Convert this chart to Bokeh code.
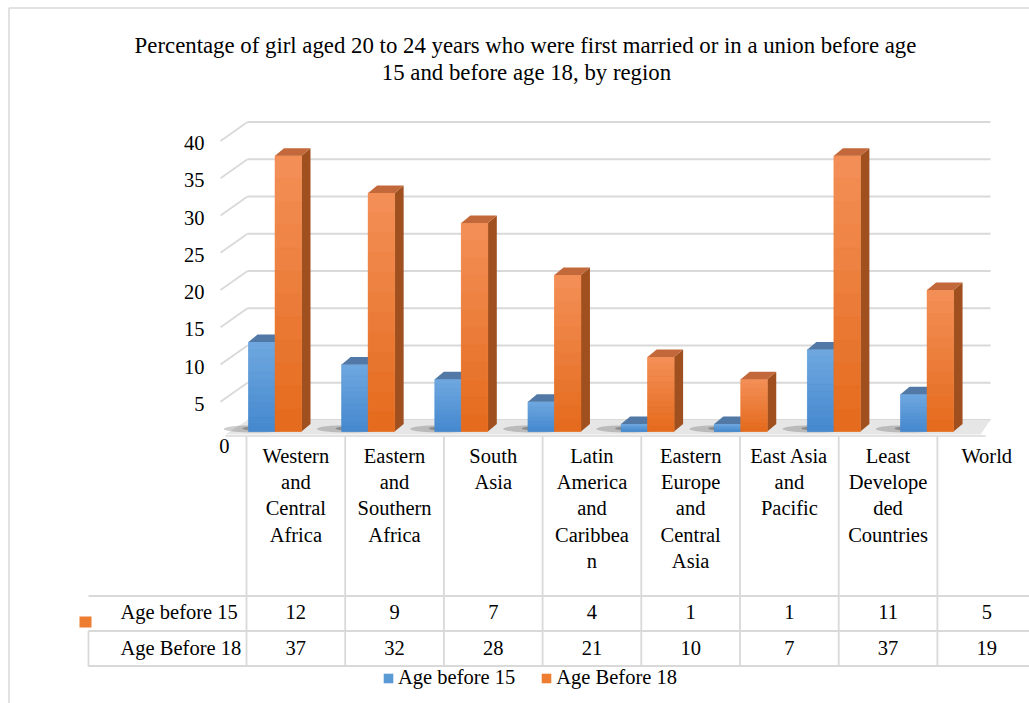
import numpy as np
from bokeh.plotting import figure
from bokeh.models import Range1d, ColumnDataSource, Legend, LegendItem
from bokeh.core.properties import value
from bokeh.embed import file_html
from bokeh.resources import INLINE

# ---------------- data ----------------
title_lines = [
    "Percentage of girl aged 20 to 24 years who were first married or in a union before age",
    "15 and before age 18, by region",
]
regions = [
    "Western\nand\nCentral\nAfrica",
    "Eastern\nand\nSouthern\nAfrica",
    "South\nAsia",
    "Latin\nAmerica\nand\nCaribbea\nn",
    "Eastern\nEurope\nand\nCentral\nAsia",
    "East Asia\nand\nPacific",
    "Least\nDevelope\nded\nCountries",
    "World",
]
series_names = ["Age before 15", "Age Before 18"]
age_before_15 = [12, 9, 7, 4, 1, 1, 11, 5]
age_before_18 = [37, 32, 28, 21, 10, 7, 37, 19]
y_ticks = [0, 5, 10, 15, 20, 25, 30, 35, 40]
y_tick_labels = ["0", "5", "10", "15", "20", "25", "30", "35", "40"]

# ---------------- geometry (pixels) ----------------
W, H = 1029, 703
CAT0, CAT_STEP = 274.5, 93.15      # bar-pair centres
TAB0, TAB_STEP = 295.35, 98.7      # table column centres
Y0, YS = 431.0, 7.45               # front baseline, px per unit
FONT = value("Liberation Serif")
FS = value("20.5px")
GRID = "#D9D9D9"

def T(y_top):
    """screen y (from top) -> default range y (from bottom)"""
    return H - y_top

n = len(regions)
p = figure(width=W, height=H, x_range=Range1d(0, W), y_range=Range1d(0, H),
           min_border=0, toolbar_location=None, output_backend="svg",
           x_axis_type=None, y_axis_type=None, outline_line_color=None,
           background_fill_color="white", border_fill_color="white")
p.extra_x_ranges = {
    "cat": Range1d(-CAT0 / CAT_STEP, (W - CAT0) / CAT_STEP),
    "tab": Range1d(-TAB0 / TAB_STEP, (W - TAB0) / TAB_STEP),
}
p.extra_y_ranges = {"val": Range1d(-(H - Y0) / YS, Y0 / YS)}

# outer chart border
p.line(x=[8.5, 8.5, W], y=[0, T(7.5), T(7.5)], line_color=GRID, line_width=1.5)

# ---------------- back wall gridlines + left wall stubs ----------------
BACK = 11.5 / YS           # back wall offset in value units
STUB = 19.0 / YS
gx0, gx1, sx0 = 247, 990, 220
p.multi_line(xs=[[gx0, gx1] for _ in y_ticks],
             ys=[[t + BACK, t + BACK] for t in y_ticks],
             y_range_name="val", line_color=GRID, line_width=1.8)
p.multi_line(xs=[[sx0, gx0] for t in y_ticks if t > 0],
             ys=[[t + BACK - STUB, t + BACK] for t in y_ticks if t > 0],
             y_range_name="val", line_color=GRID, line_width=1.8)

# floor
fl = -0.4
p.patch(x=[225, 980, gx1, gx0], y=[fl, fl, BACK, BACK], y_range_name="val",
        fill_color="#E6E6E6", line_color=None)

# shadows under bars
BW = 26.5 / CAT_STEP
DX = 9.0 / CAT_STEP
DY = 7.5 / YS
idx = np.arange(n)
p.ellipse(x=idx - 0.2, y=[0.35] * n, width=0.7, height=1.0,
          x_range_name="cat", y_range_name="val",
          fill_color="#3A3A3A", fill_alpha=0.25, line_color=None)
p.ellipse(x=idx - 0.1, y=[0.4] * n, width=0.5, height=0.65,
          x_range_name="cat", y_range_name="val",
          fill_color="#3A3A3A", fill_alpha=0.35, line_color=None)

# ---------------- 3D bars ----------------
def lerp(c1, c2, t):
    return "#%02x%02x%02x" % tuple(int(round(a + (b - a) * t)) for a, b in zip(c1, c2))

styles = [
    dict(base="#5B9BD5", top_c=(112, 168, 224), bot_c=(68, 136, 206),
         cap="#5279A6", side="#3E6FA3"),
    dict(base="#ED7D31", top_c=(243, 144, 88), bot_c=(228, 106, 28),
         cap="#C2683A", side="#A0501E"),
]
front_renderers = []
for s, vals in enumerate([age_before_15, age_before_18]):
    st = styles[s]
    cx = idx + (s - 0.5) * BW
    left, right = cx - BW / 2, cx + BW / 2
    v = np.array(vals, dtype=float)
    # side face
    p.patches(xs=[[r, r + DX, r + DX, r] for r in right],
              ys=[[0, DY, h + DY, h] for h in v],
              x_range_name="cat", y_range_name="val",
              fill_color=st["side"], line_color=None)
    # front face (solid, used by legend)
    r_front = p.quad(left=left, right=right, bottom=0, top=v,
                     x_range_name="cat", y_range_name="val",
                     fill_color=st["base"], line_color=None)
    front_renderers.append(r_front)
    # vertical gradient on front face
    N = 12
    bl, br, bb, bt, bc = [], [], [], [], []
    for k in range(N):
        for i in range(n):
            bl.append(left[i]); br.append(right[i])
            bb.append(v[i] * k / N); bt.append(v[i] * (k + 1) / N)
            bc.append(lerp(st["bot_c"], st["top_c"], (k + 0.5) / N))
    p.quad(source=ColumnDataSource(dict(l=bl, r=br, b=bb, t=bt, c=bc)),
           left="l", right="r", bottom="b", top="t", fill_color="c",
           line_color="c", line_width=0.5,
           x_range_name="cat", y_range_name="val")
    # top face
    p.patches(xs=[[l, r, r + DX, l + DX] for l, r in zip(left, right)],
              ys=[[h, h, h + DY, h + DY] for h in v],
              x_range_name="cat", y_range_name="val",
              fill_color=st["cap"], line_color=None)

# ---------------- y tick labels ----------------
lab_x = [229 if t == 0 else 204 for t in y_ticks]
lab_y = [t - (14.0 if t == 0 else 9.5) / YS for t in y_ticks]
p.text(x=lab_x, y=lab_y, text=y_tick_labels, y_range_name="val",
       text_font=FONT, text_font_size=FS, text_align="right",
       text_baseline="middle", text_color="black")

# ---------------- title ----------------
p.text(x=[525, 526], y=[T(45), T(72)], text=title_lines,
       text_font=FONT, text_font_size=value("22.8px"), text_align="center",
       text_baseline="middle", text_color="black")

# ---------------- data table ----------------
# category axis line / header top
p.line(x=[225, 985], y=[T(435.5), T(435.5)], line_color=GRID, line_width=1.5)
# column borders
p.multi_line(xs=[[i - 0.5, i - 0.5] for i in range(n + 1)],
             ys=[[T(436), T(666)] for _ in range(n + 1)],
             x_range_name="tab", line_color=GRID, line_width=1.8)
# row borders
row_lines = [595.5, 630.5, 665.5]
p.multi_line(xs=[[88, W] for _ in row_lines], ys=[[T(y), T(y)] for y in row_lines],
             line_color=GRID, line_width=1.8)
p.line(x=[88, 88], y=[T(630.5), T(666)], line_color=GRID, line_width=1.8)

# category header labels
p.text(x=list(idx), y=[T(444.5)] * n, text=regions, x_range_name="tab",
       text_font=FONT, text_font_size=FS, text_align="center",
       text_baseline="top", text_line_height=1.19, text_color="black")

# row values
row_y = [611.5, 647]
for r, vals in enumerate([age_before_15, age_before_18]):
    p.text(x=list(idx), y=[T(row_y[r])] * n, text=[str(v) for v in vals],
           x_range_name="tab", text_font=FONT, text_font_size=FS,
           text_align="center", text_baseline="middle", text_color="black")
p.text(x=[120, 120], y=[T(y) for y in row_y], text=series_names,
       text_font=FONT, text_font_size=FS, text_align="left",
       text_baseline="middle", text_color="black")
# stray legend key next to the table
p.rect(x=[85], y=[T(621.5)], width=12, height=11, fill_color="#ED7D31", line_color=None)

# ---------------- legend ----------------
legend = Legend(
    items=[LegendItem(label=series_names[0], renderers=[front_renderers[0]]),
           LegendItem(label=series_names[1], renderers=[front_renderers[1]])],
    orientation="horizontal", location=(382, 14),
    glyph_width=12, glyph_height=12, label_standoff=4, spacing=25,
    padding=0, margin=0, border_line_color=None, background_fill_alpha=0,
    label_text_font="Liberation Serif", label_text_font_size="20.5px",
    label_text_color="black",
)
p.add_layout(legend)

open("out.html", "w").write(file_html(p, INLINE))
